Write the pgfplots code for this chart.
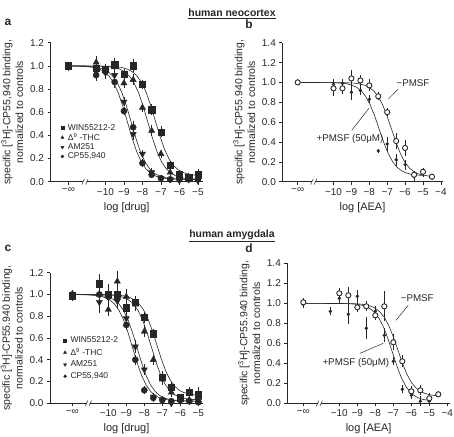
\documentclass[border=0pt]{standalone}
\usepackage{fontspec}
\setmainfont{Liberation Sans}
\usepackage{pgfplots}
\pgfplotsset{compat=1.18}
\definecolor{ink}{gray}{0.15}
\newcommand\tickfont{\fontsize{10}{11}\selectfont}
\newcommand\labfont{\fontsize{11}{12}\selectfont}
\newcommand\ylabfont{\fontsize{10.5}{12.8}\selectfont}
\newcommand\legfont{\fontsize{8.5}{9}\selectfont}
\newcommand\annfont{\fontsize{9.8}{11}\selectfont}
\pgfplotsset{
  panel/.style={
    scale only axis, clip=false, enlargelimits=false,
    axis x line=bottom, axis y line=left,
    axis line style={-, ink, line width=0.6pt},
    tick align=outside, major tick length=3pt,
    tick style={ink, line width=0.6pt},
    ticklabel style={font=\tickfont, text=ink},
    xlabel style={font=\labfont, text=ink},
    ylabel style={font=\ylabfont, text=ink, align=center},
    ymin=0, 
    legend style={draw=none, fill=none, font=\legfont, inner sep=0pt,
      nodes={inner sep=0.7pt, text=ink}, row sep=0.4pt,
      /tikz/every odd column/.append style={column sep=3.2pt}},
    legend cell align=left,
    legend image code/.code={\draw[mark repeat=1,##1] plot coordinates {(0.09cm,0cm)};},
  },
  pts/.style={only marks, ink, forget plot,
    error bars/y dir=both, error bars/y explicit,
    error bars/error bar style={line width=0.5pt, ink},
    error bars/error mark options={mark size=2pt, line width=0.5pt, ink}},
  fit/.style={ink, line width=0.6pt, no marks, forget plot},
}
\newcommand\axisbreak{%
  \fill[white] ([xshift=-1.6pt,yshift=-2pt]axis cs:-11.1,0) rectangle ([xshift=1.6pt,yshift=2pt]axis cs:-11.1,0);
  \draw[ink, line width=0.5pt] ([xshift=-3.2pt,yshift=-2.8pt]axis cs:-11.1,0) -- ++(2.6pt,5.6pt);
  \draw[ink, line width=0.5pt] ([xshift=0.4pt,yshift=-2.8pt]axis cs:-11.1,0) -- ++(2.6pt,5.6pt);
}
\begin{document}
\begin{tikzpicture}
\path[use as bounding box] (0,0) rectangle (454bp,437bp);

% ---------- titles and letters
\node[font=\bfseries\fontsize{10.5}{12}\selectfont, text=ink] at (232bp,423.5bp) {\underline{human neocortex}};
\node[font=\bfseries\fontsize{10.5}{12}\selectfont, text=ink] at (232bp,201.3bp) {\underline{human amygdala}};
\node[font=\bfseries\fontsize{12}{14}\selectfont, text=ink] at (8bp,415bp) {a};
\node[font=\bfseries\fontsize{12}{14}\selectfont, text=ink] at (249bp,412.5bp) {b};
\node[font=\bfseries\fontsize{12}{14}\selectfont, text=ink] at (8bp,189bp) {c};
\node[font=\bfseries\fontsize{12}{14}\selectfont, text=ink] at (249bp,189bp) {d};

% ================= panel a
\begin{axis}[panel, at={(50.5bp,255.3bp)}, anchor=south west,
  width=152.4bp, height=139bp, xmin=-12.97, xmax=-4.73, ymax=1.2,
  xtick={-12,-10,-9,-8,-7,-6,-5}, xticklabels={−∞,−10,−9,−8,−7,−6,−5},
  ytick={0,0.2,0.4,0.6,0.8,1.0,1.2}, yticklabels={0.0,0.2,0.4,0.6,0.8,1.0,1.2},
  xlabel={log [drug]},
  ylabel={specific [\textsuperscript{3}H]-CP55,940 binding,\\normalized to controls},
  legend style={at={(axis cs:-12.42,0.505)}, anchor=north west}]
\addplot[fit] coordinates {(-12,1.0) (-9.8,0.997) (-9.3,0.991) (-9.05,0.983) (-8.8,0.971) (-8.55,0.949) (-8.3,0.914) (-8.05,0.857) (-7.8,0.772) (-7.55,0.658) (-7.3,0.525) (-7.05,0.392) (-6.8,0.278) (-6.55,0.193) (-6.3,0.136) (-6.05,0.101) (-5.8,0.079) (-5.55,0.067) (-5.3,0.059) (-5,0.055)};
\addplot[fit] coordinates {(-12,1.0) (-10.2,0.997) (-9.7,0.990) (-9.45,0.983) (-9.2,0.970) (-8.95,0.948) (-8.7,0.911) (-8.45,0.852) (-8.2,0.765) (-7.95,0.647) (-7.7,0.51) (-7.45,0.373) (-7.2,0.255) (-6.95,0.168) (-6.7,0.109) (-6.45,0.072) (-6.2,0.050) (-5.95,0.037) (-5.7,0.030) (-5.2,0.023) (-5,0.021)};
\addplot[fit] coordinates {(-12,1.0) (-11.1,0.997) (-10.6,0.990) (-10.35,0.983) (-10.1,0.970) (-9.85,0.948) (-9.6,0.911) (-9.35,0.852) (-9.1,0.765) (-8.85,0.647) (-8.6,0.51) (-8.35,0.373) (-8.1,0.255) (-7.85,0.168) (-7.6,0.109) (-7.35,0.072) (-7.1,0.050) (-6.85,0.037) (-6.6,0.030) (-6.1,0.023) (-5.6,0.021) (-5,0.020)};
\addplot[fit] coordinates {(-12,0.999) (-11.3,0.997) (-10.8,0.990) (-10.55,0.983) (-10.3,0.970) (-10.05,0.948) (-9.8,0.911) (-9.55,0.852) (-9.3,0.765) (-9.05,0.647) (-8.8,0.51) (-8.55,0.373) (-8.3,0.255) (-8.05,0.168) (-7.8,0.109) (-7.55,0.072) (-7.3,0.050) (-7.05,0.037) (-6.8,0.030) (-6.3,0.023) (-5.8,0.021) (-5,0.020)};
% WIN55212-2
\addplot[pts, mark=square*, mark size=3.2pt] table[y error=e] {
x y e
-12 1.00 0.01
-10.5 0.98 0.02
-10 0.97 0.03
-9.5 1.01 0.04
-9 0.93 0.03
-8.5 1.00 0.04
-8 0.84 0.02
-7.5 0.62 0.03
-7 0.43 0.03
-6.5 0.14 0.02
-6 0.06 0.02
-5.5 0.04 0.02
-5 0.06 0.03
};
% THC
\addplot[pts, mark=triangle*, mark size=3.6pt] table[y error=e] {
x y e
-12 1.00 0.01
-10.5 1.03 0.04
-10 0.96 0.03
-9.5 0.99 0.03
-9 0.85 0.02
-8.5 0.88 0.03
-8 0.64 0.02
-7.5 0.44 0.03
-7 0.24 0.02
-6.5 0.08 0.02
-6 0.03 0.02
-5.5 0.02 0.01
-5 0.02 0.01
};
% AM251
\addplot[pts, mark=triangle*, mark size=3.6pt, mark options={rotate=180}] table[y error=e] {
x y e
-12 0.99 0.01
-10.5 0.95 0.04
-10 0.94 0.04
-9.5 0.92 0.04
-9 0.69 0.02
-8.5 0.41 0.03
-8 0.24 0.02
-7.5 0.08 0.02
-7 0.03 0.01
-6.5 0.02 0.01
-6 0.01 0.01
-5.5 0.02 0.01
-5 0.01 0.01
};
% CP55,940
\addplot[pts, mark=*, mark size=3.1pt] table[y error=e] {
x y e
-12 1.00 0.01
-10.5 0.92 0.03
-10 0.95 0.03
-9.5 0.86 0.03
-9 0.61 0.02
-8.5 0.47 0.04
-8 0.16 0.02
-7.5 0.06 0.01
-7 0.03 0.01
-6.5 0.02 0.01
-6 0.02 0.01
-5.5 0.02 0.01
-5 0.02 0.01
};
\addlegendimage{only marks, ink, mark=square*, mark size=1.5pt}
\addlegendentry{WIN55212-2}
\addlegendimage{only marks, ink, mark=triangle*, mark size=1.8pt}
\addlegendentry{Δ\textsuperscript{9} -THC}
\addlegendimage{only marks, ink, mark=triangle*, mark size=1.8pt, mark options={rotate=180}}
\addlegendentry{AM251}
\addlegendimage{only marks, ink, mark=*, mark size=1.5pt}
\addlegendentry{CP55,940}
\axisbreak
\end{axis}

% ================= panel b
\begin{axis}[panel, at={(282.3bp,255.3bp)}, anchor=south west,
  width=160.4bp, height=139bp, xmin=-12.86, xmax=-3.9, ymax=1.4,
  xtick={-12,-10,-9,-8,-7,-6,-5,-4}, xticklabels={−∞,−10,−9,−8,−7,−6,−5,−4},
  ytick={0,0.2,0.4,0.6,0.8,1.0,1.2,1.4}, yticklabels={0.0,0.2,0.4,0.6,0.8,1.0,1.2,1.4},
  xlabel={log [AEA]},
  ylabel={specific [\textsuperscript{3}H]-CP55.940 binding,\\normalized to controls}]
\addplot[fit] coordinates {(-12,1.0) (-9.25,0.997) (-8.75,0.991) (-8.5,0.983) (-8.25,0.971) (-8,0.949) (-7.75,0.914) (-7.5,0.857) (-7.25,0.772) (-7,0.658) (-6.75,0.525) (-6.5,0.392) (-6.25,0.278) (-6,0.193) (-5.75,0.136) (-5.5,0.101) (-5.25,0.079) (-5,0.067) (-4.75,0.059) (-4.5,0.055)};
\addplot[fit] coordinates {(-12,1.0) (-9.95,0.997) (-9.45,0.991) (-9.2,0.984) (-8.95,0.971) (-8.7,0.950) (-8.45,0.915) (-8.2,0.858) (-7.95,0.774) (-7.7,0.662) (-7.45,0.530) (-7.2,0.398) (-6.95,0.286) (-6.7,0.202) (-6.45,0.145) (-6.2,0.110) (-5.95,0.089) (-5.7,0.076) (-5.45,0.069) (-5,0.063)};
% +PMSF
\addplot[pts, mark=*, mark size=1.5pt] table[y error=e] {
x y e
-12 1.00 0.01
-10 0.98 0.03
-9.5 0.99 0.02
-9 0.90 0.06
-8.5 0.92 0.03
-8 0.83 0.02
-7.5 0.31 0.0
-7 0.38 0.05
-6.5 0.22 0.04
-6 0.17 0.03
-5.5 0.05 0.02
-5 0.09 0.02
};
% -PMSF
\addplot[pts, mark=*, mark size=2.6pt, mark options={fill=white, line width=0.9pt}] table[y error=e] {
x y e
-12 1.00 0.01
-10 0.94 0.06
-9.5 0.94 0.04
-9 1.04 0.06
-8.5 1.02 0.03
-8 0.97 0.04
-7.5 0.86 0.02
-7 0.70 0.02
-6.5 0.41 0.06
-6 0.34 0.06
-5.5 0.07 0.02
-5 0.10 0.02
-4.5 0.05 0.01
};
\node[font=\annfont, text=ink] at (axis cs:-5.56,0.99) {−PMSF};
\draw[ink, line width=0.5pt] (axis cs:-6.4,0.93) -- (axis cs:-6.95,0.83);
\node[font=\annfont, text=ink] at (axis cs:-9.08,0.43) {+PMSF (50μM)};
\draw[ink, line width=0.5pt] (axis cs:-8.97,0.52) -- (axis cs:-8.02,0.74);
\axisbreak
\end{axis}

% ================= panel c
\begin{axis}[panel, at={(50bp,33.7bp)}, anchor=south west,
  width=153bp, height=130.6bp, xmin=-13.24, xmax=-4.74, ymax=1.2,
  xtick={-12,-10,-9,-8,-7,-6,-5}, xticklabels={−∞,−10,−9,−8,−7,−6,−5},
  ytick={0,0.2,0.4,0.6,0.8,1.0,1.2}, yticklabels={0.0,0.2,0.4,0.6,0.8,1.0,1.2},
  xlabel={log [drug]},
  ylabel={specific [\textsuperscript{3}H]-CP55.940 binding,\\normalized to controls},
  legend style={at={(axis cs:-12.5,0.62)}, anchor=north west, row sep=2.8pt}]
\addplot[fit] coordinates {(-12,1.0) (-9.8,0.997) (-9.3,0.991) (-9.05,0.984) (-8.8,0.971) (-8.55,0.951) (-8.3,0.915) (-8.05,0.860) (-7.8,0.777) (-7.55,0.665) (-7.3,0.535) (-7.05,0.405) (-6.8,0.293) (-6.55,0.210) (-6.3,0.155) (-6.05,0.119) (-5.8,0.099) (-5.55,0.086) (-5.3,0.079) (-5,0.075)};
\addplot[fit] coordinates {(-12,1.0) (-10.1,0.997) (-9.6,0.990) (-9.35,0.983) (-9.1,0.970) (-8.85,0.948) (-8.6,0.912) (-8.35,0.854) (-8.1,0.767) (-7.85,0.651) (-7.6,0.515) (-7.35,0.379) (-7.1,0.263) (-6.85,0.176) (-6.6,0.118) (-6.35,0.082) (-6.1,0.060) (-5.85,0.047) (-5.6,0.040) (-5.1,0.033) (-5,0.033)};
\addplot[fit] coordinates {(-12,1.0) (-10.9,0.997) (-10.4,0.990) (-10.15,0.983) (-9.9,0.970) (-9.65,0.948) (-9.4,0.911) (-9.15,0.852) (-8.9,0.765) (-8.65,0.647) (-8.4,0.51) (-8.15,0.373) (-7.9,0.255) (-7.65,0.168) (-7.4,0.109) (-7.15,0.072) (-6.9,0.050) (-6.65,0.037) (-6.4,0.030) (-5.9,0.023) (-5.4,0.021) (-5,0.020)};
\addplot[fit] coordinates {(-12,0.999) (-11.15,0.997) (-10.65,0.990) (-10.4,0.983) (-10.15,0.970) (-9.9,0.948) (-9.65,0.911) (-9.4,0.852) (-9.15,0.765) (-8.9,0.647) (-8.65,0.51) (-8.4,0.373) (-8.15,0.255) (-7.9,0.168) (-7.65,0.109) (-7.4,0.072) (-7.15,0.050) (-6.9,0.037) (-6.65,0.030) (-6.15,0.023) (-5.65,0.021) (-5,0.020)};
\addplot[pts, mark=square*, mark size=3.2pt] table[y error=e] {
x y e
-12 0.99 0.02
-10.5 1.10 0.07
-10 1.00 0.08
-9.5 1.00 0.06
-9 0.88 0.05
-8.5 0.93 0.04
-8 0.79 0.03
-7.5 0.64 0.02
-7 0.24 0.04
-6.5 0.15 0.03
-6 0.05 0.02
-5.5 0.10 0.03
-5 0.08 0.05
};
\addplot[pts, mark=triangle*, mark size=3.6pt] table[y error=e] {
x y e
-12 1.00 0.02
-10.5 1.00 0.05
-10 0.86 0.04
-9.5 1.12 0.08
-9 0.98 0.05
-8.5 0.91 0.04
-8 0.66 0.03
-7.5 0.40 0.03
-7 0.22 0.03
-6.5 0.10 0.02
-6 0.04 0.02
-5.5 0.03 0.02
-5 0.03 0.03
};
\addplot[pts, mark=triangle*, mark size=3.6pt, mark options={rotate=180}] table[y error=e] {
x y e
-12 0.98 0.02
-10.5 0.93 0.08
-10 0.98 0.05
-9.5 0.94 0.05
-9 0.78 0.04
-8.5 0.52 0.04
-8 0.31 0.03
-7.5 0.06 0.02
-7 0.03 0.02
-6.5 0.00 0.01
-6 0.02 0.01
-5.5 0.02 0.02
-5 0.02 0.02
};
\addplot[pts, mark=*, mark size=3.1pt] table[y error=e] {
x y e
-12 1.00 0.01
-10.5 1.00 0.04
-10 0.98 0.05
-9.5 0.96 0.04
-9 0.72 0.03
-8.5 0.40 0.03
-8 0.12 0.02
-7.5 0.05 0.02
-7 0.03 0.01
-6.5 0.02 0.01
-6 0.03 0.01
-5.5 0.02 0.01
-5 0.01 0.01
};
\addlegendimage{only marks, ink, mark=square*, mark size=1.5pt}
\addlegendentry{WIN55212-2}
\addlegendimage{only marks, ink, mark=triangle*, mark size=1.8pt}
\addlegendentry{Δ\textsuperscript{9} -THC}
\addlegendimage{only marks, ink, mark=triangle*, mark size=1.8pt, mark options={rotate=180}}
\addlegendentry{AM251}
\addlegendimage{only marks, ink, mark=*, mark size=1.5pt}
\addlegendentry{CP55,940}
\axisbreak
\end{axis}

% ================= panel d
\begin{axis}[panel, at={(287.3bp,33.7bp)}, anchor=south west,
  width=162.7bp, height=140bp, xmin=-12.89, xmax=-3.85, ymax=1.4,
  xtick={-12,-10,-9,-8,-7,-6,-5,-4}, xticklabels={−∞,−10,−9,−8,−7,−6,−5,−4},
  ytick={0,0.2,0.4,0.6,0.8,1.0,1.2,1.4}, yticklabels={0.0,0.2,0.4,0.6,0.8,1.0,1.2,1.4},
  xlabel={log [AEA]},
  ylabel={specific [\textsuperscript{3}H]-CP55.940 binding,\\normalized to controls}]
\addplot[fit] coordinates {(-12,1.0) (-9.25,0.997) (-8.75,0.991) (-8.5,0.984) (-8.25,0.971) (-8,0.951) (-7.75,0.915) (-7.5,0.860) (-7.25,0.777) (-7,0.665) (-6.75,0.535) (-6.5,0.405) (-6.25,0.293) (-6,0.210) (-5.75,0.155) (-5.5,0.119) (-5.25,0.099) (-5,0.086) (-4.75,0.079) (-4.5,0.075)};
\addplot[fit] coordinates {(-12,1.0) (-9.55,0.997) (-9.05,0.990) (-8.8,0.983) (-8.55,0.970) (-8.3,0.948) (-8.05,0.911) (-7.8,0.852) (-7.55,0.765) (-7.3,0.647) (-7.05,0.51) (-6.8,0.373) (-6.55,0.255) (-6.3,0.168) (-6.05,0.109) (-5.8,0.072) (-5.55,0.050) (-5.3,0.037) (-5,0.029)};
\addplot[pts, mark=*, mark size=1.5pt] table[y error=e] {
x y e
-12 0.99 0.02
-10.5 0.92 0.02
-10 1.05 0.04
-9.5 0.89 0.08
-9 1.07 0.04
-8.5 0.75 0.09
-8 0.92 0.03
-7.5 0.68 0.05
-7 0.42 0.02
-6.5 0.14 0.02
-6 0.08 0.02
-5.5 0.02 0.03
-5 0.02 0.02
};
\addplot[pts, mark=*, mark size=2.6pt, mark options={fill=white, line width=0.9pt}] table[y error=e] {
x y e
-12 1.01 0.02
-10 1.10 0.03
-9.5 1.08 0.06
-9 0.96 0.03
-8.5 0.97 0.03
-8 0.88 0.03
-7.5 0.97 0.13
-7 0.61 0.06
-6.5 0.42 0.04
-6 0.12 0.03
-5.5 0.13 0.03
-5 0.05 0.03
-4.5 0.09 0.01
};
\node[font=\annfont, text=ink] at (axis cs:-5.67,1.05) {−PMSF};
\draw[ink, line width=0.5pt] (axis cs:-6.17,0.98) -- (axis cs:-6.85,0.83);
\node[font=\annfont, text=ink] at (axis cs:-9.08,0.40) {+PMSF (50μM)};
\draw[ink, line width=0.5pt] (axis cs:-8.85,0.50) -- (axis cs:-7.56,0.60);
\axisbreak
\end{axis}
\end{tikzpicture}
\end{document}
